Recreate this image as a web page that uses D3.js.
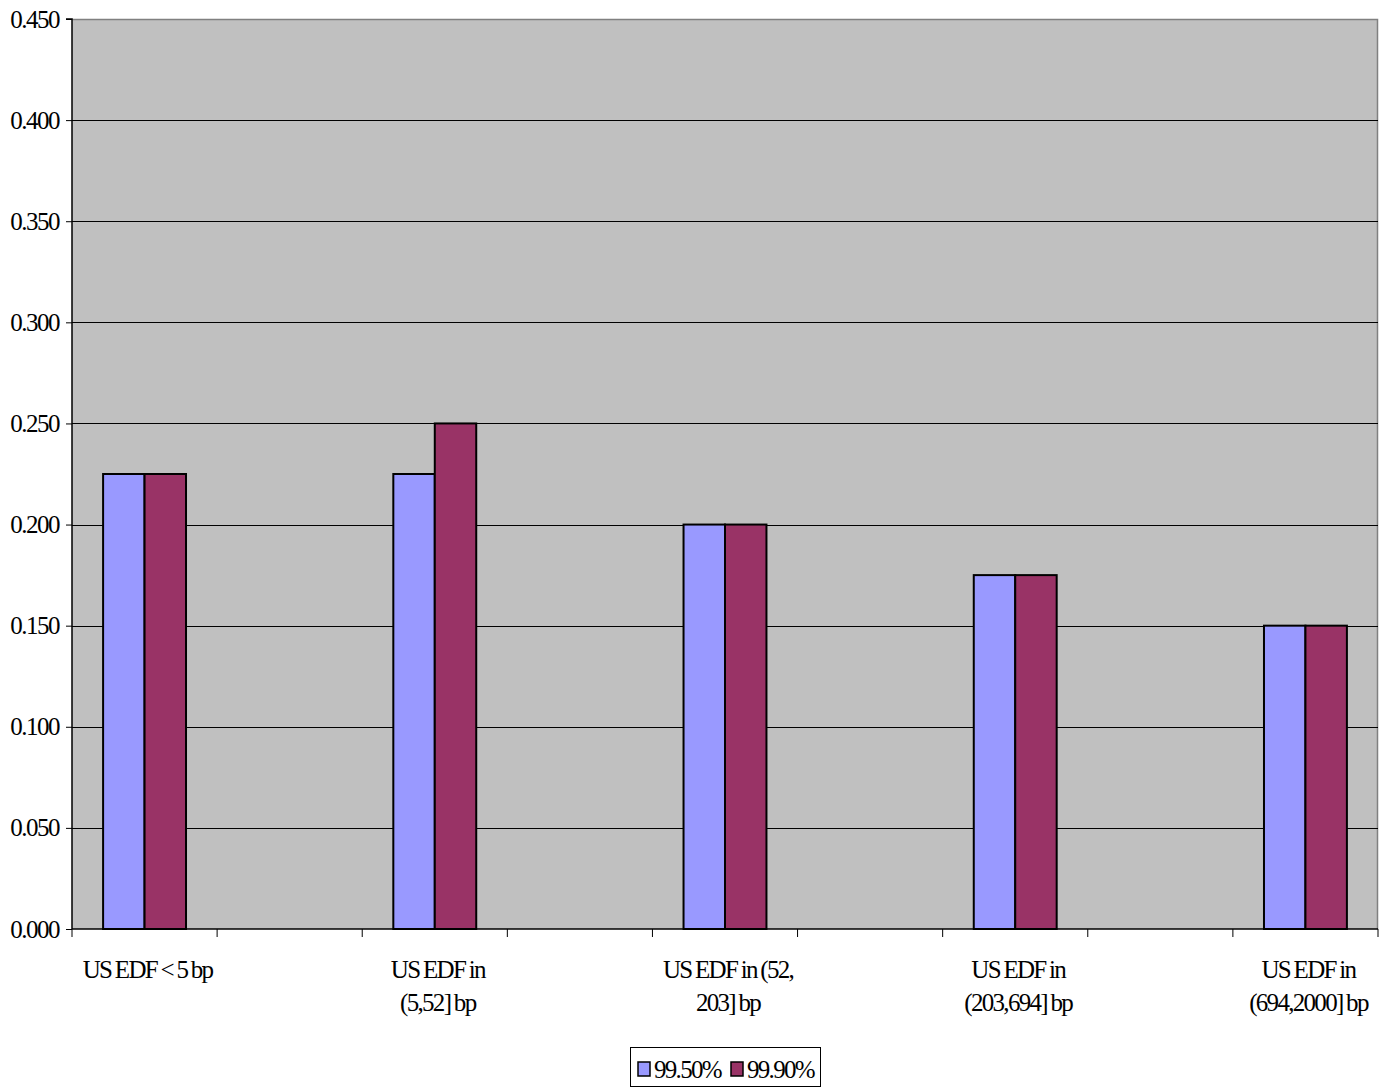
<!DOCTYPE html>
<html><head><meta charset="utf-8">
<script src="https://cdn.jsdelivr.net/npm/d3@7"></script>
<style>body{margin:0;background:#fff;} text{font-family:"Liberation Serif","Times New Roman",serif;}</style>
</head><body><svg id="c" width="1390" height="1088"></svg>
<script>
// Data (blank categories are the empty slots between groups)
const categories = [
  ["US EDF < 5 bp"], [""],
  ["US EDF in", "(5,52] bp"], [""],
  ["US EDF in (52,", "203] bp"], [""],
  ["US EDF in", "(203,694] bp"], [""],
  ["US EDF in", "(694,2000] bp"]
];
const seriesNames = ["99.50%", "99.90%"];
const s995 = [0.225, null, 0.225, null, 0.200, null, 0.175, null, 0.150];
const s999 = [0.225, null, 0.250, null, 0.200, null, 0.175, null, 0.150];
const yTicks = [0, 0.05, 0.10, 0.15, 0.20, 0.25, 0.30, 0.35, 0.40, 0.45];
const colors = ["#9999FF", "#993366"];

const svg = d3.select("#c");
const L = 72, R = 1378, T = 19, B = 929;
const x = d3.scaleBand().domain(d3.range(categories.length)).range([L, R]).padding(0);
const y = d3.scaleLinear().domain([0, 0.45]).range([B, T]);
const FS = 25;

svg.append("rect").attr("x", L).attr("y", T).attr("width", R - L).attr("height", B - T).attr("fill", "#C0C0C0");
svg.append("path").attr("d", `M${L},${T + 0.5}H${R - 0.5}V${B}`).attr("fill", "none").attr("stroke", "#808080").attr("stroke-width", 1.5);

// gridlines
svg.append("g").selectAll("line").data(yTicks.filter(t => t > 0 && t < 0.45)).join("line")
  .attr("x1", L).attr("x2", R).attr("y1", d => Math.round(y(d)) + 0.5).attr("y2", d => Math.round(y(d)) + 0.5)
  .attr("stroke", "#000").attr("stroke-width", 1);

// bars
const bw = x.bandwidth();
const gw = bw / 1.75;
const series = [s995, s999];
series.forEach((vals, si) => {
  svg.append("g").selectAll("rect").data(vals.map((v, i) => ({v, i})).filter(d => d.v != null)).join("rect")
    .attr("x", d => x(d.i) + (bw - gw) / 2 + si * gw / 2)
    .attr("y", d => y(d.v))
    .attr("width", gw / 2)
    .attr("height", d => B - y(d.v))
    .attr("fill", colors[si]).attr("stroke", "#000").attr("stroke-width", 2);
});

// y axis
const ya = svg.append("g").attr("transform", `translate(${L},0)`)
  .call(d3.axisLeft(y).tickValues(yTicks).tickFormat(d3.format(".3f")).tickSize(6).tickPadding(7));
ya.select(".domain").attr("stroke", "#000").attr("stroke-width", 1.5).attr("d", `M-6,${T}H0V${B}`);
ya.selectAll(".tick line").attr("stroke", "#000");
ya.selectAll(".tick text").attr("font-family", '"Liberation Serif",serif').attr("font-size", FS).attr("letter-spacing", "-1.5px").attr("fill", "#000");

// x axis
svg.append("line").attr("x1", L).attr("x2", R).attr("y1", B).attr("y2", B).attr("stroke", "#000").attr("stroke-width", 1.5);
const bounds = d3.range(categories.length + 1).map(i => i < categories.length ? x(i) : R);
svg.append("g").selectAll("line").data(bounds).join("line")
  .attr("x1", d => d).attr("x2", d => d).attr("y1", B).attr("y2", B + 8).attr("stroke", "#000").attr("stroke-width", 1);

const lab = svg.append("g").selectAll("text").data(categories.map((c, i) => ({c, i}))).join("text")
  .attr("x", d => x(d.i) + bw / 2 + 3).attr("y", 978)
  .attr("text-anchor", "middle").attr("font-size", FS).attr("letter-spacing", "-1.7px").attr("word-spacing", "-1px").attr("fill", "#000");
lab.selectAll("tspan").data(d => d.c.map((t, k) => ({t, k, cx: x(d.i) + bw / 2 + 3}))).join("tspan")
  .attr("x", d => d.cx).attr("dy", d => d.k === 0 ? 0 : 33).text(d => d.t);

// legend
const lg = svg.append("g");
lg.append("rect").attr("x", 630.5).attr("y", 1047.5).attr("width", 190).attr("height", 39).attr("fill", "#fff").attr("stroke", "#000").attr("stroke-width", 1);
const lx = [638, 731];
seriesNames.forEach((n, i) => {
  lg.append("rect").attr("x", lx[i]).attr("y", 1062).attr("width", 12).attr("height", 14).attr("fill", colors[i]).attr("stroke", "#000").attr("stroke-width", 1.5);
  lg.append("text").attr("x", lx[i] + 16).attr("y", 1078).attr("font-size", FS).attr("letter-spacing", "-1.7px").attr("fill", "#000").text(n);
});
</script></body></html>
